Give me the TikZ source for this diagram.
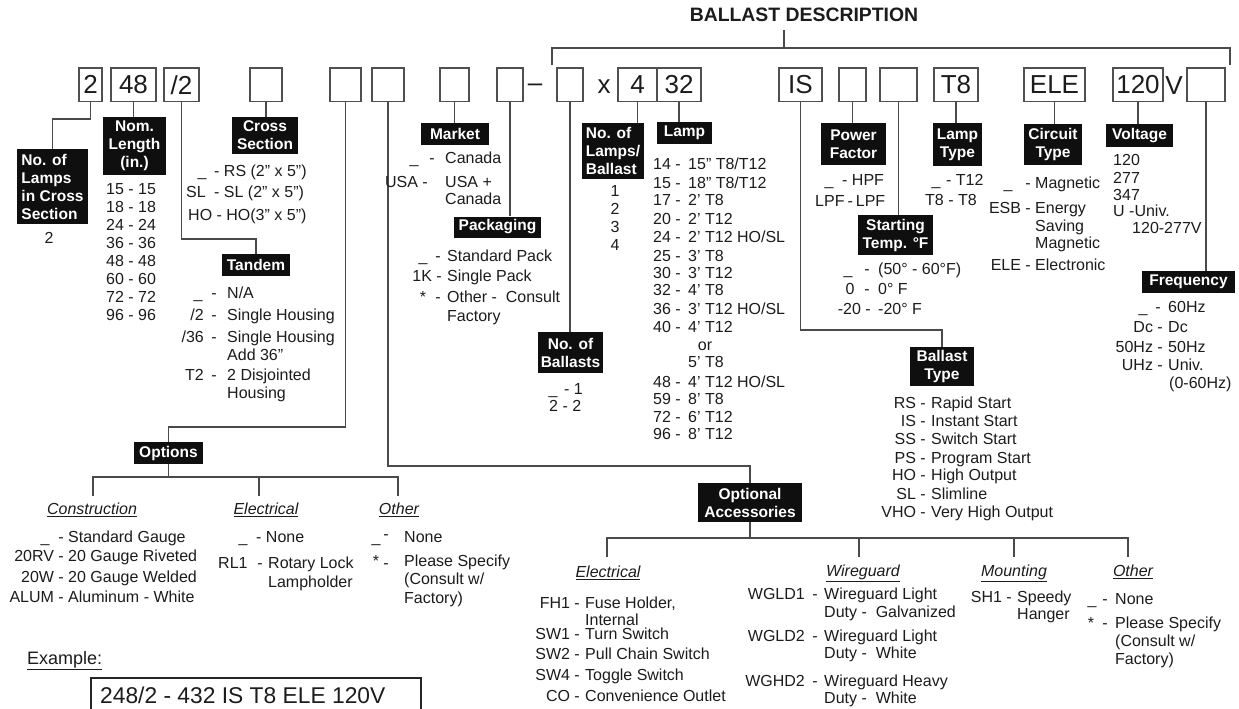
\documentclass[tikz,border=0pt]{standalone}
\usepackage{fontspec}
\setmainfont{Liberation Sans}
\definecolor{tc}{HTML}{1C1C1C}
\definecolor{linec}{HTML}{4A4A4A}
\definecolor{boxc}{HTML}{505050}
\definecolor{lblc}{HTML}{0F0F0F}
\newcounter{tn}
\newcommand\tL[3]{\stepcounter{tn}\node[txt,anchor=base west] (t\arabic{tn}) at (#1,#2+5.7) {#3};}
\newcommand\tR[3]{\stepcounter{tn}\node[txt,anchor=base east] (t\arabic{tn}) at (#1,#2+5.7) {#3};}
\newcommand\tC[3]{\stepcounter{tn}\node[txt,anchor=base] (t\arabic{tn}) at (#1,#2+5.7) {#3};}
\begin{document}
\begin{tikzpicture}[x=1pt,y=-1pt,
  txt/.style={font=\fontsize{16}{18}\selectfont, inner sep=0pt, text=tc},
  lbl/.style={fill=lblc, text=white, font=\bfseries\fontsize{15.5}{18}\selectfont, inner sep=0pt, align=center},
  cbox/.style={draw=boxc, line width=1.4pt, inner sep=0pt, minimum height=33.5pt, font=\fontsize{26}{26}\selectfont, text=tc},
  big/.style={font=\fontsize{26}{26}\selectfont, inner sep=0pt, text=tc, anchor=base},
  conn/.style={draw=linec, line width=1.4pt},
  hd/.style={font=\itshape\fontsize{16}{18}\selectfont, inner sep=0pt, text=tc, anchor=base}
]
\useasboundingbox (0,0) rectangle (1239,709);
\fill[white] (0,0) rectangle (1239,709);

% title and bracket
\node[anchor=base, font=\bfseries\fontsize{19.4}{22}\selectfont, text=tc, inner sep=0pt] (title) at (804,21.3) {BALLAST DESCRIPTION};
\coordinate (bl) at (552,65);
\coordinate (br) at (1230,65);
\coordinate (bt) at (784,30);
\draw[conn] (bl) |- (br |- 0,48) -- (br);
\draw[conn] (bt) -- (bt |- 0,48);

% code boxes
\node[cbox, minimum width=23pt] (b1) at (90.5,84.75) {2};
\node[cbox, minimum width=45pt] (b2) at (133.5,84.75) {48};
\node[cbox, minimum width=35pt] (b3) at (181.5,84.75) {/2};
\node[cbox, minimum width=32pt] (b4) at (266,84.75) {};
\node[cbox, minimum width=31pt] (b5) at (345.5,84.75) {};
\node[cbox, minimum width=32pt] (b6) at (388,84.75) {};
\node[cbox, minimum width=29pt] (b7) at (454.5,84.75) {};
\node[cbox, minimum width=26pt] (b8) at (510,84.75) {};
\node[big] (dash) at (535,92) {--};
\node[cbox, minimum width=26pt] (b9) at (570,84.75) {};
\node[big] (times) at (604,93) {x};
\node[cbox, minimum width=39pt] (b10) at (637.5,84.75) {4};
\node[cbox, minimum width=44pt] (b11) at (679,84.75) {32};
\node[cbox, minimum width=43pt] (b12) at (800.5,84.75) {IS};
\node[cbox, minimum width=27pt] (b13) at (852.5,84.75) {};
\node[cbox, minimum width=37pt] (b14) at (898.5,84.75) {};
\node[cbox, minimum width=44pt] (b15) at (956,84.75) {T8};
\node[cbox, minimum width=61pt] (b16) at (1054.5,84.75) {ELE};
\node[cbox, minimum width=50pt] (b17) at (1138,84.75) {120};
\node[big] (volt) at (1174,94) {V};
\node[cbox, minimum width=38pt] (b18) at (1206,84.75) {};

% labels
\node[lbl, minimum width=71pt, minimum height=75pt, align=left] (L1) at (52.5,186.5) {No. of\\Lamps\\in Cross\\Section};
\node[lbl, minimum width=63pt, minimum height=58pt] (L2) at (134.5,146) {Nom.\\Length\\(in.)};
\node[lbl, minimum width=68pt, minimum height=22pt] (L3) at (256,265) {Tandem};
\node[lbl, minimum width=66pt, minimum height=37pt] (L4) at (265,135.5) {Cross\\Section};
\node[lbl, minimum width=69pt, minimum height=22pt] (L5) at (168.5,453) {Options};
\node[lbl, minimum width=104pt, minimum height=39pt] (L6) at (750,502.5) {Optional\\Accessories};
\node[lbl, minimum width=68pt, minimum height=22pt] (L7) at (455,134) {Market};
\node[lbl, minimum width=87pt, minimum height=21pt] (L8) at (497.5,227) {Packaging};
\node[lbl, minimum width=65pt, minimum height=41pt] (L9) at (570.5,352.5) {No. of\\Ballasts};
\node[lbl, minimum width=62pt, minimum height=56pt, align=left] (L10) at (613,151) {No. of\\Lamps/\\Ballast};
\node[lbl, minimum width=55pt, minimum height=22pt] (L11) at (684.5,133) {Lamp};
\node[lbl, minimum width=64pt, minimum height=39pt] (L12) at (942,366.5) {Ballast\\Type};
\node[lbl, minimum width=65pt, minimum height=42pt] (L13) at (853.5,144) {Power\\Factor};
\node[lbl, minimum width=75pt, minimum height=40pt] (L14) at (895.5,235) {Starting\\Temp. °F};
\node[lbl, minimum width=49pt, minimum height=43pt] (L15) at (957.5,144.5) {Lamp\\Type};
\node[lbl, minimum width=58pt, minimum height=41pt] (L16) at (1053,144.5) {Circuit\\Type};
\node[lbl, minimum width=67pt, minimum height=23pt] (L17) at (1139.5,135.5) {Voltage};
\node[lbl, minimum width=93pt, minimum height=22pt] (L18) at (1188.5,282) {Frequency};

% connectors box -> label
\draw[conn] (b1.south) |- (L1.north |- 0,119) -- (L1.north);
\draw[conn] (b2.south) -- (b2.south |- L2.north);
\draw[conn] (b3.south) |- (L3.north |- 0,239) -- (L3.north);
\draw[conn] (b4.south) -- (b4.south |- L4.north);
\draw[conn] (b5.south) |- (L5.north |- 0,427) -- (L5.north);
\draw[conn] (b6.south) |- (L6.north |- 0,466) -- (L6.north);
\draw[conn] (b7.south) -- (b7.south |- L7.north);
\draw[conn] (b8.south) -- (b8.south |- L8.north);
\draw[conn] (b9.south) -- (b9.south |- L9.north);
\draw[conn] (b10.south) -- (b10.south |- L10.north);
\draw[conn] (b11.south) -- (b11.south |- L11.north);
\draw[conn] (b12.south) |- (L12.north |- 0,330) -- (L12.north);
\draw[conn] (b13.south) -- (b13.south |- L13.north);
\draw[conn] (b14.south) -- (b14.south |- L14.north);
\draw[conn] (b15.south) -- (b15.south |- L15.north);
\draw[conn] (b16.south) -- (b16.south |- L16.north);
\draw[conn] (b17.south) -- (b17.south |- L17.north);
\draw[conn] (b18.south) -- (b18.south |- L18.north);

% options tree
\coordinate (oa) at (93,496);
\coordinate (ob) at (259,496);
\coordinate (oc) at (398,496);
\draw[conn] (L5.south) -- (L5.south |- 0,477);
\draw[conn] (oa) |- (oc |- 0,477) -- (oc);
\draw[conn] (ob) -- (ob |- 0,477);

% accessories tree
\coordinate (aa) at (607,557);
\coordinate (ab) at (859,557);
\coordinate (ac) at (1014,557);
\coordinate (ad) at (1128,557);
\draw[conn] (L6.south) -- (L6.south |- 0,538);
\draw[conn] (aa) |- (ad |- 0,538) -- (ad);
\draw[conn] (ab) -- (ab |- 0,538);
\draw[conn] (ac) -- (ac |- 0,538);

% No. of lamps in cross section
\tC{49}{238}{2}

% Nom length
\tL{106}{189}{15 - 15}
\tL{106}{207}{18 - 18}
\tL{106}{225}{24 - 24}
\tL{106}{243}{36 - 36}
\tL{106}{261}{48 - 48}
\tL{106}{279}{60 - 60}
\tL{106}{297}{72 - 72}
\tL{106}{315}{96 - 96}

% Cross section
\tC{202}{171}{\_} \tL{214}{171}{- RS (2" x 5")}
\tR{206}{192}{SL} \tL{214}{192}{- SL (2" x 5")}
\tL{188}{215}{HO - HO(3" x 5")}

% Tandem
\tC{198}{293}{\_} \tC{214}{293}{-} \tL{227}{293}{N/A}
\tR{204}{315}{/2} \tC{214}{315}{-} \tL{227}{315}{Single Housing}
\tR{204}{337}{/36} \tC{214}{337}{-} \tL{227}{337}{Single Housing}
\tL{227}{355}{Add 36"}
\tR{204}{375}{T2} \tC{214}{375}{-} \tL{227}{375}{2 Disjointed}
\tL{227}{393}{Housing}

% Market
\tC{414}{158}{\_} \tC{432}{158}{-} \tL{445}{158}{Canada}
\tR{428}{182}{USA -} \tL{445}{182}{USA +}
\tL{445}{199}{Canada}

% Packaging
\tC{423}{256}{\_} \tC{438}{256}{-} \tL{447}{256}{Standard Pack}
\tR{442}{276}{1K -} \tL{447}{276}{Single Pack}
\tC{423}{297}{*} \tC{438}{297}{-} \tL{447}{297}{Other -\ \ Consult}
\tL{447}{316}{Factory}

% No. of ballasts
\tC{553}{389}{\_} \tL{564}{389}{- 1}
\tL{549}{406}{2 - 2}

% No. of lamps / ballast
\tC{615}{191}{1}
\tC{615}{209}{2}
\tC{615}{227}{3}
\tC{615}{245}{4}

% Lamp
\tR{681}{164}{14 -} \tL{688}{164}{15" T8/T12}
\tR{681}{183}{15 -} \tL{688}{183}{18" T8/T12}
\tR{681}{200}{17 -} \tL{688}{200}{2' T8}
\tR{681}{219}{20 -} \tL{688}{219}{2' T12}
\tR{681}{237}{24 -} \tL{688}{237}{2' T12 HO/SL}
\tR{681}{256}{25 -} \tL{688}{256}{3' T8}
\tR{681}{273}{30 -} \tL{688}{273}{3' T12}
\tR{681}{290}{32 -} \tL{688}{290}{4' T8}
\tR{681}{309}{36 -} \tL{688}{309}{3' T12 HO/SL}
\tR{681}{327}{40 -} \tL{688}{327}{4' T12}
\tC{705}{345}{or}
\tL{688}{362}{5' T8}
\tR{681}{382}{48 -} \tL{688}{382}{4' T12 HO/SL}
\tR{681}{399}{59 -} \tL{688}{399}{8' T8}
\tR{681}{417}{72 -} \tL{688}{417}{6' T12}
\tR{681}{434}{96 -} \tL{688}{434}{8' T12}

% Ballast type
\tR{926}{403}{RS -} \tL{931}{403}{Rapid Start}
\tR{926}{421}{IS -} \tL{931}{421}{Instant Start}
\tR{926}{439}{SS -} \tL{931}{439}{Switch Start}
\tR{926}{458}{PS -} \tL{931}{458}{Program Start}
\tR{926}{475}{HO -} \tL{931}{475}{High Output}
\tR{926}{494}{SL -} \tL{931}{494}{Slimline}
\tR{926}{512}{VHO -} \tL{931}{512}{Very High Output}

% Power factor
\tC{829}{180}{\_} \tL{842}{180}{- HPF}
\tL{815}{201}{LPF\hspace{3pt}-\hspace{3pt}LPF}

% Starting temp
\tC{848}{269}{\_} \tC{867}{269}{-} \tL{878}{269}{(50° - 60°F)}
\tC{850}{289}{0} \tC{867}{289}{-} \tL{878}{289}{0° F}
\tR{871}{309}{-20 -} \tL{878}{309}{-20° F}

% Lamp type
\tC{936}{180}{\_} \tL{946}{180}{- T12}
\tL{925}{200}{T8 - T8}

% Circuit type
\tC{1008}{183}{\_} \tC{1028}{183}{-} \tL{1035}{183}{Magnetic}
\tR{1031}{208}{ESB -} \tL{1035}{208}{Energy}
\tL{1035}{226}{Saving}
\tL{1035}{243}{Magnetic}
\tR{1031}{265}{ELE -} \tL{1035}{265}{Electronic}

% Voltage
\tL{1113}{160}{120}
\tL{1113}{178}{277}
\tL{1113}{195}{347}
\tL{1113}{211}{U -Univ.}
\tL{1132}{228}{120-277V}

% Frequency
\tC{1143}{307}{\_} \tC{1158}{307}{-} \tL{1168}{307}{60Hz}
\tR{1163}{327}{Dc -} \tL{1168}{327}{Dc}
\tR{1163}{347}{50Hz -} \tL{1168}{347}{50Hz}
\tR{1163}{365}{UHz -} \tL{1168}{365}{Univ.}
\tL{1169}{383}{(0-60Hz)}

% Options headings
\node[hd] (h1) at (92,514.7) {\underline{Construction}};
\node[hd] (h2) at (266,514.7) {\underline{Electrical}};
\node[hd] (h3) at (399,514.7) {\underline{Other}};

% Construction
\tR{64}{537}{\_\ \ -} \tL{68}{537}{Standard Gauge}
\tR{64}{556}{20RV -} \tL{68}{556}{20 Gauge Riveted}
\tR{64}{577}{20W -} \tL{68}{577}{20 Gauge Welded}
\tR{64}{597}{ALUM -} \tL{68}{597}{Aluminum - White}

% Electrical (options)
\tC{243}{537}{\_} \tL{256}{537}{- None}
\tL{218}{563}{RL1} \tC{260}{563}{-} \tL{268}{563}{Rotary Lock}
\tL{268}{582}{Lampholder}

% Other (options)
\tC{376}{537}{\_} \tC{386}{534}{-} \tL{404}{537}{None}
\tC{376}{561}{*} \tC{386}{563}{-} \tL{404}{561}{Please Specify}
\tL{404}{579}{(Consult w/}
\tL{404}{598}{Factory)}

% Accessories headings
\node[hd] (h4) at (608,577.7) {\underline{Electrical}};
\node[hd] (h5) at (863,576.7) {\underline{Wireguard}};
\node[hd] (h6) at (1014,576.7) {\underline{Mounting}};
\node[hd] (h7) at (1133,576.7) {\underline{Other}};

% Accessories electrical
\tR{580}{603}{FH1 -} \tL{585}{603}{Fuse Holder,}
\tL{585}{620}{Internal}
\tR{580}{634}{SW1 -} \tL{585}{634}{Turn Switch}
\tR{580}{654}{SW2 -} \tL{585}{654}{Pull Chain Switch}
\tR{580}{675}{SW4 -} \tL{585}{675}{Toggle Switch}
\tR{580}{696}{CO -} \tL{585}{696}{Convenience Outlet}

% Wireguard
\tR{805}{594}{WGLD1} \tC{815}{594}{-} \tL{824}{594}{Wireguard Light}
\tL{824}{612}{Duty -\ \ Galvanized}
\tR{805}{636}{WGLD2} \tC{815}{636}{-} \tL{824}{636}{Wireguard Light}
\tL{824}{653}{Duty -\ \ White}
\tR{805}{681}{WGHD2} \tC{815}{681}{-} \tL{824}{681}{Wireguard Heavy}
\tL{824}{698}{Duty -\ \ White}

% Mounting
\tR{1012}{597}{SH1 -} \tL{1017}{597}{Speedy}
\tL{1017}{614}{Hanger}

% Other (accessories)
\tC{1092}{599}{\_} \tC{1105}{599}{-} \tL{1115}{599}{None}
\tC{1091}{623}{*} \tC{1105}{623}{-} \tL{1115}{623}{Please Specify}
\tL{1115}{641}{(Consult w/}
\tL{1115}{659}{Factory)}

% Example
\node[anchor=base west, font=\fontsize{18}{20}\selectfont, text=tc, inner sep=0pt] (exl) at (27,664.5) {\underline{Example:}};
\draw[line width=1.8pt, draw=black!85] (91,712) -- (91,678) -- (421,678) -- (421,712);
\node[anchor=base west, font=\fontsize{22.8}{24}\selectfont, text=tc, inner sep=0pt] (ext) at (100,703.5) {248/2 - 432 IS T8 ELE 120V};
\end{tikzpicture}
\end{document}
